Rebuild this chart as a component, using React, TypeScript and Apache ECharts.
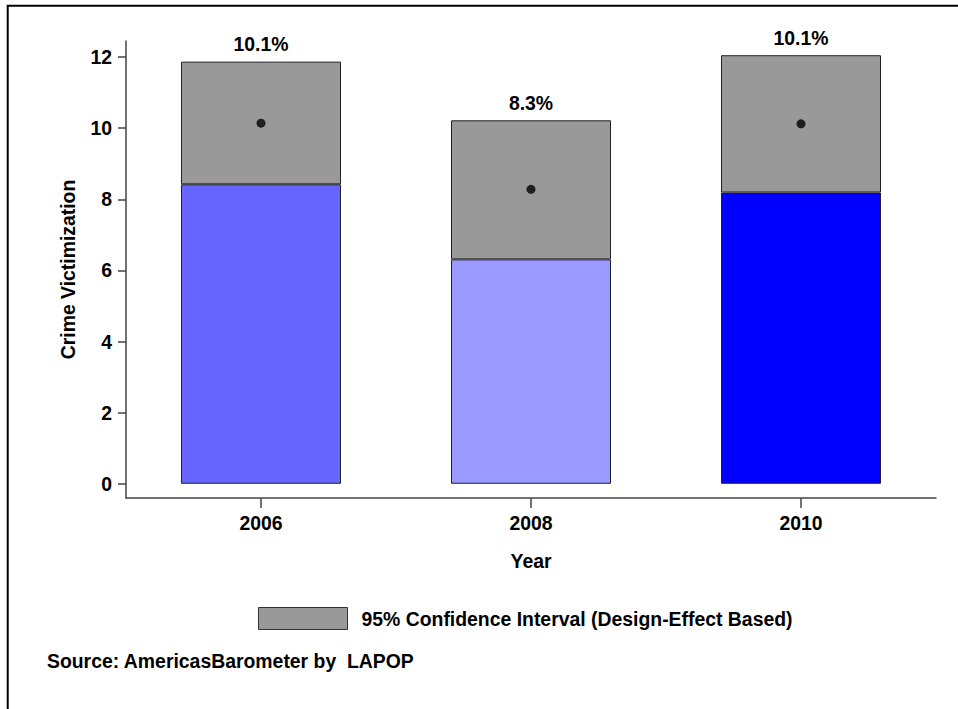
import React, { useEffect, useRef } from "react";
import * as echarts from "echarts";

const categories = ["2006", "2008", "2010"];
const means = [10.14, 8.28, 10.12];
const lower = [8.42, 6.31, 8.19];
const upper = [11.87, 10.22, 12.05];
const barColors = ["#6666FF", "#9999FF", "#0000FF"];
const yTicks = [0, 2, 4, 6, 8, 10, 12];
const ciName = "95% Confidence Interval (Design-Effect Based)";
const yTitle = "Crime Victimization";
const xTitle = "Year";
const sourceText = "Source: AmericasBarometer by  LAPOP";

const FONT = '"Liberation Sans", Arial, Helvetica, sans-serif';
const FS = 19.4;

export default function App() {
  const ref = useRef<HTMLDivElement>(null);
  useEffect(() => {
    document.body.style.margin = "0";
    if (!ref.current) return;
    const chart = echarts.init(ref.current, null, { renderer: "svg" });
    const ciHeights = upper.map((u, i) => u - lower[i]);
    chart.setOption({
      animation: false,
      backgroundColor: "#fff",
      textStyle: { fontFamily: FONT },
      grid: { left: 126, right: 22, top: 41, bottom: 211, containLabel: false },
      legend: {
        show: true,
        data: [ciName],
        left: 258,
        top: 607,
        padding: 0,
        itemWidth: 89,
        itemHeight: 22,
        icon: "rect",
        itemStyle: { color: "#999999", borderColor: "#333", borderWidth: 1 },
        textStyle: {
          fontSize: FS,
          fontWeight: "bold",
          color: "#000",
          fontFamily: FONT,
          padding: [0, 0, 0, 9],
        },
        selectedMode: false,
      },
      xAxis: {
        type: "category",
        data: categories,
        boundaryGap: true,
        name: xTitle,
        nameLocation: "middle",
        nameGap: 53,
        nameTextStyle: { fontSize: FS, fontWeight: "bold", color: "#000", fontFamily: FONT },
        axisLine: { show: true, onZero: false, lineStyle: { color: "#444", width: 1.5 } },
        axisTick: { show: true, alignWithLabel: true, length: 10, lineStyle: { color: "#444", width: 1.5 } },
        axisLabel: { fontSize: FS, fontWeight: "bold", color: "#000", margin: 15, fontFamily: FONT },
        splitLine: { show: false },
      },
      yAxis: {
        type: "value",
        min: -0.4,
        max: 12.45,
        name: yTitle,
        nameLocation: "middle",
        nameGap: 49,
        nameRotate: 90,
        nameTextStyle: { fontSize: FS, fontWeight: "bold", color: "#000", fontFamily: FONT },
        axisLine: { show: true, lineStyle: { color: "#444", width: 1.5 } },
        axisTick: { show: true, length: 8, customValues: yTicks, lineStyle: { color: "#444", width: 1.5 } },
        axisLabel: {
          fontSize: FS,
          fontWeight: "bold",
          color: "#000",
          margin: 14,
          customValues: yTicks,
          fontFamily: FONT,
        },
        splitLine: { show: false },
      },
      series: [
        {
          name: "Lower",
          type: "bar",
          stack: "ci",
          barWidth: 160,
          data: lower.map((v, i) => ({ value: v, itemStyle: { color: barColors[i] } })),
          itemStyle: { borderColor: "#222", borderWidth: 1 },
          z: 2,
        },
        {
          name: ciName,
          type: "bar",
          stack: "ci",
          barWidth: 160,
          data: ciHeights,
          itemStyle: { color: "#999999", borderColor: "#222", borderWidth: 1 },
          label: {
            show: true,
            position: "top",
            distance: 8,
            fontSize: FS,
            fontWeight: "bold",
            color: "#000",
            fontFamily: FONT,
            formatter: (p: any) => means[p.dataIndex].toFixed(1) + "%",
          },
          z: 2,
        },
        {
          name: "Mean",
          type: "scatter",
          data: means,
          symbol: "circle",
          symbolSize: 9,
          itemStyle: { color: "#000" },
          z: 5,
        },
      ],
      graphic: [
        {
          type: "rect",
          shape: { x: 7.7, y: 5.7, width: 2000, height: 2000 },
          style: { fill: "none", stroke: "#000", lineWidth: 2 },
          silent: true,
          z: 10,
        },
        {
          type: "text",
          x: 47,
          y: 661,
          style: {
            text: sourceText,
            fontSize: FS,
            fontWeight: "bold",
            fontFamily: FONT,
            fill: "#000",
            verticalAlign: "middle",
          },
        },
      ],
    });
    return () => chart.dispose();
  }, []);
  return <div ref={ref} style={{ width: 958, height: 709 }} />;
}
